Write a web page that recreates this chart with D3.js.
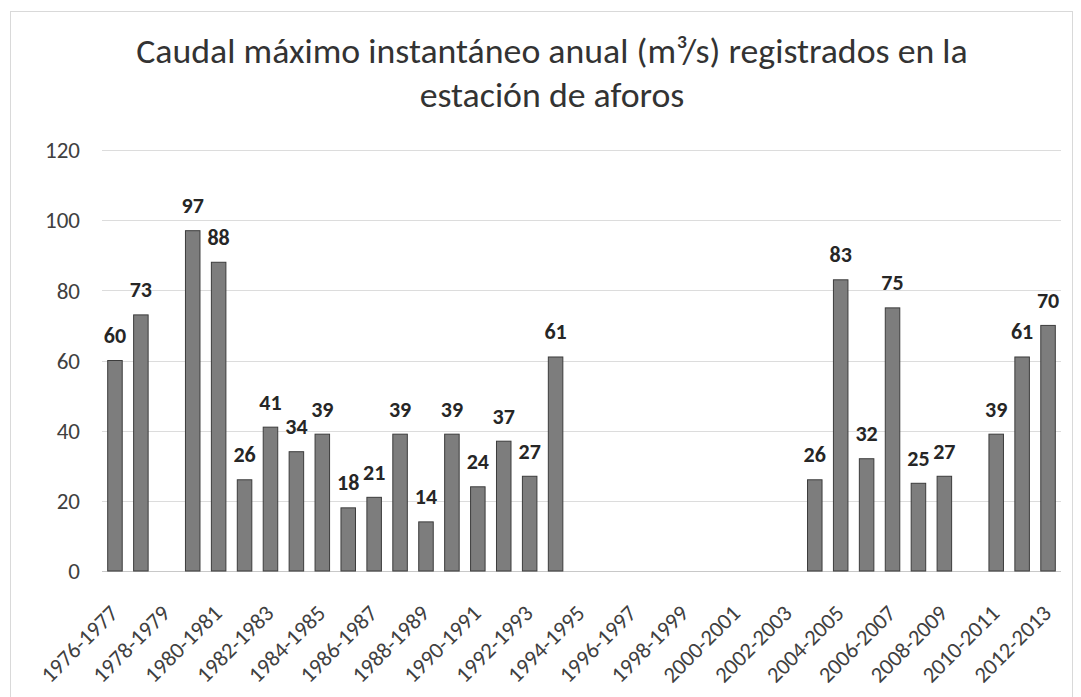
<!DOCTYPE html>
<html>
<head>
<meta charset="utf-8">
<script src="https://cdn.jsdelivr.net/npm/d3@7/dist/d3.min.js"></script>
<style>
  html, body { margin: 0; padding: 0; background: #fff; }
  svg { display: block; }
</style>
</head>
<body>
<svg id="chart" width="1081" height="697"></svg>
<script>
// ---- data ----
const categories = [
  "1976-1977","1977-1978","1978-1979","1979-1980","1980-1981","1981-1982",
  "1982-1983","1983-1984","1984-1985","1985-1986","1986-1987","1987-1988",
  "1988-1989","1989-1990","1990-1991","1991-1992","1992-1993","1993-1994",
  "1994-1995","1995-1996","1996-1997","1997-1998","1998-1999","1999-2000",
  "2000-2001","2001-2002","2002-2003","2003-2004","2004-2005","2005-2006",
  "2006-2007","2007-2008","2008-2009","2009-2010","2010-2011","2011-2012",
  "2012-2013"
];
const caudal = [
  60, 73, null, 97, 88, 26,
  41, 34, 39, 18, 21, 39,
  14, 39, 24, 37, 27, 61,
  null, null, null, null, null, null,
  null, null, null, 26, 83, 32,
  75, 25, 27, null, 39, 61,
  70
];
const yTicks = [0, 20, 40, 60, 80, 100, 120];
const titleLines = ["Caudal máximo instantáneo anual (m³/s) registrados en la", "estación de aforos"];

// ---- layout ----
const W = 1081, H = 697;
const plot = { left: 102, right: 1061, top: 150, bottom: 571 };
const FONT = "Carlito, Calibri, Lato, 'Open Sans', sans-serif";

const svg = d3.select("#chart");

// frame
svg.append("rect")
  .attr("x", 10.5).attr("y", 11.5)
  .attr("width", 1062).attr("height", 700)
  .attr("fill", "#fff").attr("stroke", "#d9d9d9").attr("stroke-width", 1);

// title
const title = svg.append("text")
  .attr("text-anchor", "middle")
  .attr("font-family", FONT)
  .attr("font-size", 35.8)
  .attr("fill", "#333");
titleLines.forEach((t, i) => {
  title.append("tspan").attr("x", 552).attr("y", 63 + i * 44).text(t);
});

// scales
const x = d3.scaleBand()
  .domain(categories)
  .range([plot.left, plot.right])
  .paddingInner(0.44)
  .paddingOuter(0.22);

const y = d3.scaleLinear()
  .domain([0, 120])
  .range([plot.bottom, plot.top]);

// gridlines
svg.append("g")
  .selectAll("line")
  .data(yTicks)
  .join("line")
  .attr("x1", plot.left).attr("x2", plot.right)
  .attr("y1", d => Math.round(y(d)) + 0.5)
  .attr("y2", d => Math.round(y(d)) + 0.5)
  .attr("stroke", d => d === 0 ? "#c8c8c8" : "#dcdcdc")
  .attr("stroke-width", 1);

// y axis labels
const yAxis = d3.axisLeft(y).tickValues(yTicks).tickSize(0).tickPadding(0);
const gy = svg.append("g").attr("transform", `translate(80,0)`).call(yAxis);
gy.select(".domain").remove();
gy.selectAll("text")
  .attr("font-family", FONT)
  .attr("font-size", 23)
  .attr("fill", "#404040")
  .attr("dy", "0.34em");

// x axis labels (every other category)
const xAxis = d3.axisBottom(x)
  .tickValues(categories.filter((d, i) => i % 2 === 0))
  .tickSize(0).tickPadding(0);
const gx = svg.append("g").attr("transform", `translate(0,${plot.bottom})`).call(xAxis);
gx.select(".domain").remove();
gx.selectAll(".tick text")
  .attr("font-family", FONT)
  .attr("font-size", 22.5)
  .attr("fill", "#404040")
  .attr("text-anchor", "end")
  .attr("x", 0).attr("y", 0).attr("dy", "0.35em")
  .attr("transform", "translate(-1,38) rotate(-45)");

// bars
const data = categories.map((c, i) => ({ c, v: caudal[i] })).filter(d => d.v != null);

svg.append("g")
  .selectAll("rect")
  .data(data)
  .join("rect")
  .attr("x", d => x(d.c))
  .attr("y", d => y(d.v))
  .attr("width", x.bandwidth())
  .attr("height", d => y(0) - y(d.v))
  .attr("fill", "#7d7d7d")
  .attr("stroke", "#3c3c3c")
  .attr("stroke-width", 1);

// data labels
svg.append("g")
  .selectAll("text")
  .data(data)
  .join("text")
  .attr("x", d => x(d.c) + x.bandwidth() / 2)
  .attr("y", d => y(d.v) - 17.5)
  .attr("text-anchor", "middle")
  .attr("font-family", FONT)
  .attr("font-size", 22)
  .attr("font-weight", "bold")
  .attr("fill", "#262626")
  .text(d => d.v);
</script>
</body>
</html>
